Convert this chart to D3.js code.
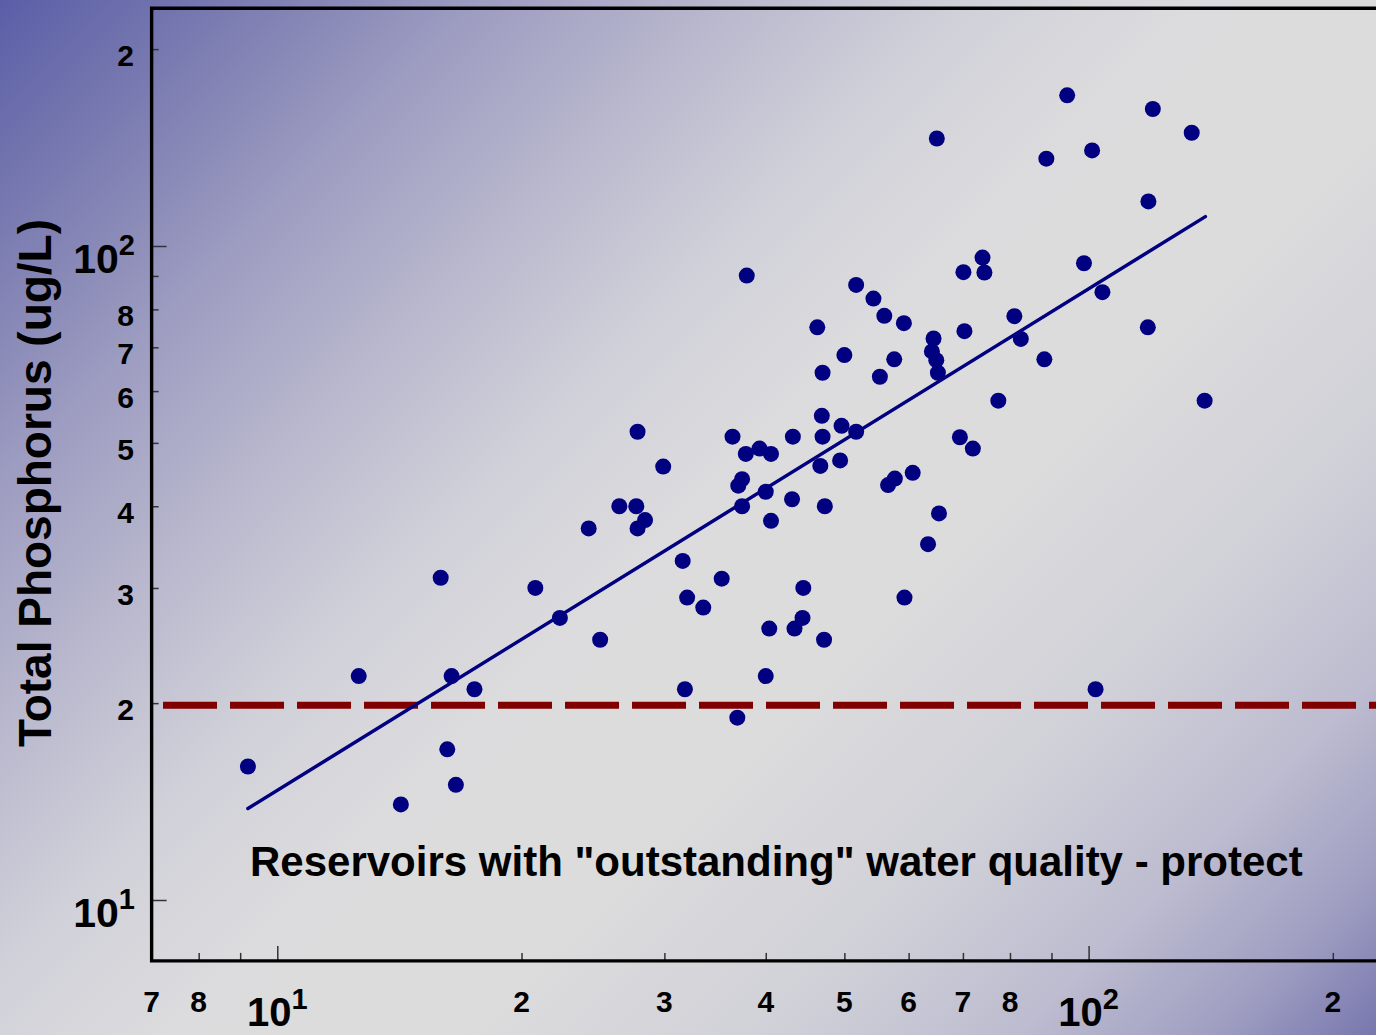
<html>

<head>
    <script src="https://d3js.org/d3.v7.min.js"></script>
    <style>
        body {
            margin: 0;
            background-color: #dcdcdc;
            font-family: "Liberation Sans", Arial, Helvetica, sans-serif;
        }

        #chart {
            width: 1376px;
            height: 1035px;
            overflow: hidden;
        }

        text {
            font-weight: bold;
            fill: black;
        }
    </style>
</head>

<body>
    <div id="chart"></div>
    <script>
        // reservoirs: x value vs total phosphorus (ug/L), both log scale
        var xValues = [9.2, 12.6, 14.2, 15.9, 16.2, 16.4, 16.6, 17.5, 20.8, 22.3,
            24.2, 25.0, 26.4, 27.7, 27.8, 28.4, 27.8, 29.9, 31.6, 32.0,
            31.8, 33.5, 35.3, 36.4, 36.9, 37.0, 37.4, 37.4, 37.8, 39.3,
            40.6, 40.0, 40.6, 37.9, 40.4, 40.0, 43.2, 43.1, 43.4, 44.4,
            44.5, 46.3, 47.0, 46.9, 46.7, 47.0, 47.3, 47.2, 49.4, 49.6,
            50.0, 51.7, 51.7, 54.3, 56.0, 55.3, 57.6, 59.2, 56.6, 57.7,
            60.7, 59.3, 63.4, 65.4, 64.4, 64.1, 64.9, 65.2, 65.0, 69.4,
            72.0, 70.1, 70.3, 74.0, 74.4, 77.4, 81.0, 82.5, 88.2, 88.7,
            94.1, 98.7, 101, 102, 104, 118.5, 120, 118.3, 134, 139];

        var tpValues = [16.0, 22.0, 14.0, 31.1, 17.0, 22.0, 15.0, 21.0, 30.0, 27.0,
            37.0, 25.0, 40.0, 40.0, 52.0, 38.1, 37.0, 46.0, 33.0, 29.0,
            21.0, 28.0, 31.0, 51.1, 19.0, 43.0, 44.0, 40.0, 48.1, 49.0,
            48.1, 42.1, 38.0, 90.1, 26.0, 22.0, 51.1, 41.0, 26.0, 27.0,
            30.0, 75.1, 64.0, 55.0, 46.1, 51.1, 40.0, 25.0, 47.0, 53.1,
            68.1, 87.2, 52.0, 83.1, 78.2, 63.1, 67.1, 76.2, 43.1, 44.1,
            45.0, 29.0, 35.0, 39.0, 72.2, 69.0, 66.9, 64.0, 146, 51.0,
            49.0, 91.2, 74.1, 96.0, 91.1, 58.0, 78.1, 72.1, 67.1, 136,
            170, 94.1, 140, 21.0, 85.0, 117, 162, 75.1, 149, 58.0];

        // regression line end points
        var fitX = [9.2, 139.3];
        var fitY = [13.8, 110.9];

        // "outstanding" threshold
        var thresholdX = [7.23, 230];
        var thresholdY = 20;

        // axis extents
        var xExtent = [7, 230];
        var yExtent = [8.07, 231];

        // ticks and labels
        var xMajorTicks = [10, 100];
        var xMinorTicks = [8, 9, 20, 30, 40, 50, 60, 70, 80, 90, 200];
        var xLabelValues = [7, 8, 20, 30, 40, 50, 60, 70, 80, 200];
        var xLabelText = ["7", "8", "2", "3", "4", "5", "6", "7", "8", "2"];
        var yMajorTicks = [10, 100];
        var yMinorTicks = [20, 30, 40, 50, 60, 70, 80, 90, 200];
        var yLabelValues = [200, 80, 70, 60, 50, 40, 30, 20];
        var yLabelText = ["2", "8", "7", "6", "5", "4", "3", "2"];
        var powerLabels = [{ value: 10, exp: "1" }, { value: 100, exp: "2" }];

        var width = 1376,
            height = 1035;

        var x = d3.scaleLog().domain([10, 100]).range([277.3, 1088.6]);
        var y = d3.scaleLog().domain([10, 100]).range([900, 246]);

        var svg = d3.select("#chart").append("svg")
            .attr("width", width)
            .attr("height", height);

        // diagonal background gradient (45 degrees, blue corners top-left / bottom-right)
        var gd = (width + height) / 2;
        var grad = svg.append("defs").append("linearGradient")
            .attr("id", "bg")
            .attr("gradientUnits", "userSpaceOnUse")
            .attr("x1", 0).attr("y1", 0)
            .attr("x2", gd).attr("y2", gd);
        [[0, "#5b5ea7"], [0.1, "#7b7cb1"], [0.2, "#9d9cc1"], [0.3, "#b8b7cd"],
         [0.4, "#d0d0d9"], [0.5, "#dcdcde"], [0.62, "#dcdcdd"], [0.75, "#d0d0d8"],
         [0.85, "#bdbcd0"], [0.93, "#a09fc2"], [1, "#7877ae"]].forEach(function (s) {
            grad.append("stop").attr("offset", s[0]).attr("stop-color", s[1]);
        });

        svg.append("rect")
            .attr("width", width)
            .attr("height", height)
            .attr("fill", "url(#bg)");

        var x0 = x(xExtent[0]), x1 = x(xExtent[1]);
        var y0 = y(yExtent[0]), y1 = y(yExtent[1]);

        // ticks (drawn inward)
        function noDomain(g) { g.select(".domain").remove(); g.selectAll("line").attr("stroke", "#333").attr("stroke-width", 1.5); }

        svg.append("g")
            .attr("transform", "translate(" + x0 + ",0)")
            .call(d3.axisRight(y).tickValues(yMinorTicks).tickSize(7).tickFormat(""))
            .call(noDomain);
        svg.append("g")
            .attr("transform", "translate(" + x0 + ",0)")
            .call(d3.axisRight(y).tickValues(yMajorTicks).tickSize(15).tickFormat(""))
            .call(noDomain);
        svg.append("g")
            .attr("transform", "translate(0," + y0 + ")")
            .call(d3.axisTop(x).tickValues(xMinorTicks).tickSize(8).tickFormat(""))
            .call(noDomain);
        svg.append("g")
            .attr("transform", "translate(0," + y0 + ")")
            .call(d3.axisTop(x).tickValues(xMajorTicks).tickSize(15).tickFormat(""))
            .call(noDomain);

        // frame
        svg.append("path")
            .attr("d", "M" + x1 + "," + y0 + "H" + x0 + "V" + y1 + "H" + x1)
            .attr("fill", "none")
            .attr("stroke", "black")
            .attr("stroke-width", 3.4);

        // y labels
        svg.selectAll(".ylab").data(yLabelValues).enter()
            .append("text")
            .attr("class", "ylab")
            .attr("x", 134)
            .attr("y", function (d) { return y(d) + 17; })
            .attr("text-anchor", "end")
            .style("font-size", "30px")
            .text(function (d, i) { return yLabelText[i]; });

        powerLabels.forEach(function (p) {
            var t = svg.append("text")
                .attr("x", 135)
                .attr("y", y(p.value) + 27)
                .attr("text-anchor", "end")
                .style("font-size", "41px");
            t.append("tspan").text("10");
            t.append("tspan").attr("dy", -18).style("font-size", "29px").text(p.exp);
        });

        // x labels
        svg.selectAll(".xlab").data(xLabelValues).enter()
            .append("text")
            .attr("class", "xlab")
            .attr("x", function (d) { return x(d); })
            .attr("y", 1012)
            .attr("text-anchor", "middle")
            .style("font-size", "30px")
            .text(function (d, i) { return xLabelText[i]; });

        powerLabels.forEach(function (p) {
            var t = svg.append("text")
                .attr("x", x(p.value))
                .attr("y", 1026)
                .attr("text-anchor", "middle")
                .style("font-size", "40px");
            t.append("tspan").text("10");
            t.append("tspan").attr("dy", -17).style("font-size", "29px").text(p.exp);
        });

        // axis title
        svg.append("text")
            .attr("transform", "translate(51," + 483 + ") rotate(-90)")
            .attr("text-anchor", "middle")
            .style("font-size", "46px")
            .text("Total Phosphorus (ug/L)");

        // threshold
        svg.append("line")
            .attr("x1", x(thresholdX[0]))
            .attr("x2", x(thresholdX[1]))
            .attr("y1", y(thresholdY) + 2)
            .attr("y2", y(thresholdY) + 2)
            .attr("stroke", "#800000")
            .attr("stroke-width", 7)
            .attr("stroke-dasharray", "54,13");

        // regression line
        svg.append("line")
            .attr("x1", x(fitX[0])).attr("y1", y(fitY[0]))
            .attr("x2", x(fitX[1])).attr("y2", y(fitY[1]))
            .attr("stroke", "#000080")
            .attr("stroke-width", 3.5)
            .attr("stroke-linecap", "round");

        // points
        svg.selectAll("circle.pt").data(xValues).enter()
            .append("circle")
            .attr("class", "pt")
            .attr("cx", function (d) { return x(d); })
            .attr("cy", function (d, i) { return y(tpValues[i]); })
            .attr("r", 8)
            .attr("fill", "#000080");

        svg.append("text")
            .attr("x", 250)
            .attr("y", 876)
            .style("font-size", "42px")
            .text("Reservoirs with \"outstanding\" water quality - protect");
    </script>
</body>

</html>
